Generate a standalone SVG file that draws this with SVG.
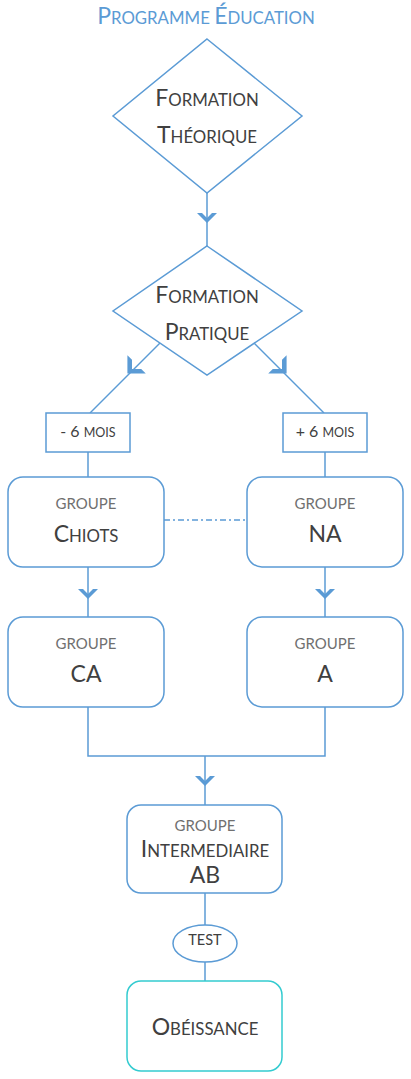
<svg xmlns="http://www.w3.org/2000/svg" width="411" height="1079" viewBox="0 0 411 1079">
<defs>
<style>
.ln{fill:none;stroke:#5b9bd5;stroke-width:1.5}
.bx{fill:#fff;stroke:#5b9bd5;stroke-width:1.5}
.ob{fill:#fff;stroke:#33cbd0;stroke-width:1.5}
.t{font-family:Lato,"Open Sans",sans-serif;fill:#404040;text-anchor:middle}
.g{font-family:Lato,"Open Sans",sans-serif;fill:#707070;text-anchor:middle;font-size:15px}
.big{font-size:23px}
.sm{font-size:16.8px}
.ch{fill:#5b9bd5}
</style>
<path id="chev" d="M-10,-5 L-5,-5 L0,0 L5,-5 L10,-5 L0,5 Z"/>
</defs>
<text x="206" y="24" class="t" style="fill:#5b9bd5"><tspan class="big">P</tspan><tspan class="sm">ROGRAMME </tspan><tspan class="big">É</tspan><tspan class="sm">DUCATION</tspan></text>

<g id="connectors">
<line class="ln" x1="207" y1="193" x2="207" y2="246"/>
<use href="#chev" class="ch" transform="translate(207,218)"/>
<line class="ln" x1="160" y1="343" x2="90" y2="413"/>
<use href="#chev" class="ch" transform="translate(132,369) rotate(45) scale(1.3)"/>
<line class="ln" x1="254" y1="343" x2="324" y2="413"/>
<use href="#chev" class="ch" transform="translate(282,369) rotate(-45) scale(1.3)"/>
<line class="ln" x1="88" y1="452" x2="88" y2="477"/>
<line class="ln" x1="325" y1="452" x2="325" y2="477"/>
<line class="ln" x1="164" y1="520" x2="247" y2="520" style="stroke-dasharray:6 3 2 3"/>
<line class="ln" x1="88" y1="567" x2="88" y2="617"/>
<use href="#chev" class="ch" transform="translate(88,594)"/>
<line class="ln" x1="325" y1="567" x2="325" y2="617"/>
<use href="#chev" class="ch" transform="translate(325,594)"/>
<polyline class="ln" points="88,707 88,756 325,756 325,707"/>
<line class="ln" x1="205" y1="756" x2="205" y2="805"/>
<use href="#chev" class="ch" transform="translate(205,781)"/>
<line class="ln" x1="205" y1="893" x2="205" y2="925"/>
<line class="ln" x1="205" y1="962" x2="205" y2="981"/>
</g>

<g id="formation-theorique">
<polygon class="bx" points="207,39 302,116 207,193 113,116"/>
<text x="207" y="106" class="t"><tspan class="big">F</tspan><tspan class="sm">ORMATION</tspan></text>
<text x="207" y="143" class="t"><tspan class="big">T</tspan><tspan class="sm">HÉORIQUE</tspan></text>
</g>

<g id="formation-pratique">
<polygon class="bx" points="207,246 302,311 207,375 113,311"/>
<text x="207" y="303" class="t"><tspan class="big">F</tspan><tspan class="sm">ORMATION</tspan></text>
<text x="207" y="340" class="t"><tspan class="big">P</tspan><tspan class="sm">RATIQUE</tspan></text>
</g>

<g id="moins-6-mois">
<rect class="bx" x="46" y="413" width="84" height="39"/>
<text x="88" y="437" class="t" style="font-size:16px">- 6 <tspan style="font-size:12.5px">MOIS</tspan></text>
</g>

<g id="plus-6-mois">
<rect class="bx" x="283" y="413" width="84" height="39"/>
<text x="325" y="437" class="t" style="font-size:16px">+ 6 <tspan style="font-size:12.5px">MOIS</tspan></text>
</g>

<g id="groupe-chiots">
<rect class="bx" x="8" y="477" width="156" height="90" rx="15"/>
<text x="86" y="509" class="g">GROUPE</text>
<text x="86" y="542" class="t"><tspan class="big">C</tspan><tspan class="sm">HIOTS</tspan></text>
</g>

<g id="groupe-na">
<rect class="bx" x="247" y="477" width="156" height="90" rx="15"/>
<text x="325" y="509" class="g">GROUPE</text>
<text x="325" y="542" class="t big">NA</text>
</g>

<g id="groupe-ca">
<rect class="bx" x="8" y="617" width="156" height="90" rx="15"/>
<text x="86" y="649" class="g">GROUPE</text>
<text x="86" y="682" class="t big">CA</text>
</g>

<g id="groupe-a">
<rect class="bx" x="247" y="617" width="156" height="90" rx="15"/>
<text x="325" y="649" class="g">GROUPE</text>
<text x="325" y="682" class="t big">A</text>
</g>

<g id="groupe-intermediaire">
<rect class="bx" x="127" y="805" width="155" height="88" rx="14"/>
<text x="205" y="831" class="g">GROUPE</text>
<text x="205" y="857" class="t"><tspan class="big">I</tspan><tspan class="sm">NTERMEDIAIRE</tspan></text>
<text x="205" y="883" class="t big">AB</text>
</g>

<g id="test">
<ellipse class="bx" cx="205" cy="943.5" rx="32" ry="18.5"/>
<text x="205" y="945" class="t" style="font-size:14.5px">TEST</text>
</g>

<g id="obeissance">
<rect class="ob" x="127" y="981" width="155" height="90" rx="14"/>
<text x="205" y="1035" class="t"><tspan class="big">O</tspan><tspan class="sm">BÉISSANCE</tspan></text>
</g>
</svg>
